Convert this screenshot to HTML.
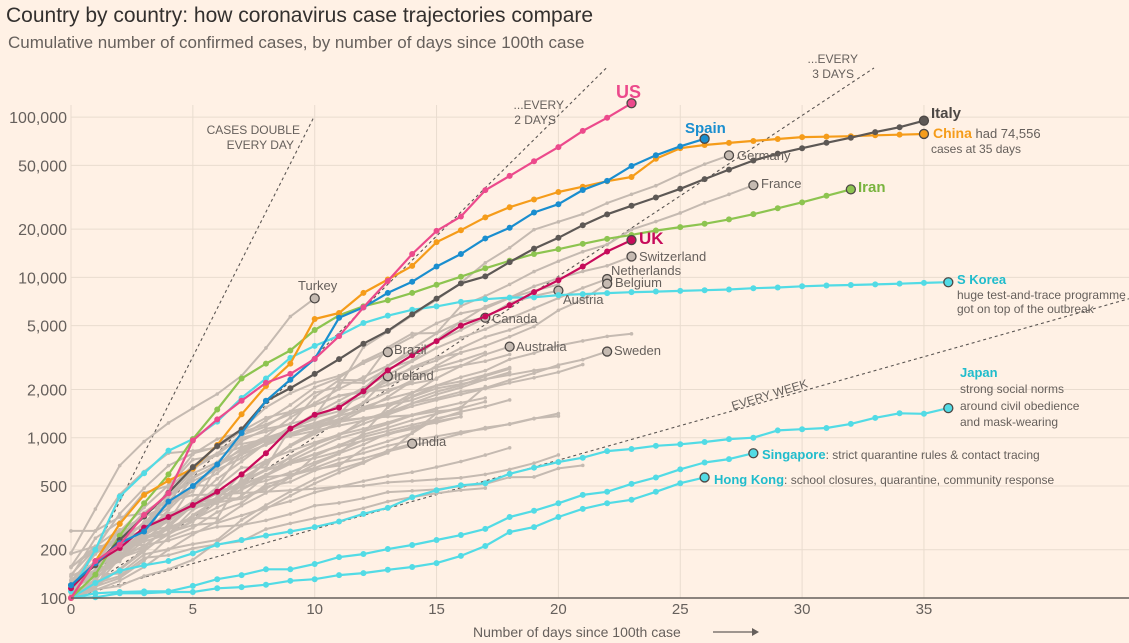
<!DOCTYPE html>
<html><head><meta charset="utf-8">
<style>
html,body{margin:0;padding:0;background:#fff1e5;}
svg{display:block;font-family:"Liberation Sans",sans-serif;}
</style></head>
<body>
<svg id="chart" width="1129" height="643" viewBox="0 0 1129 643">
<rect width="1129" height="643" fill="#fff1e5"/>
<text x="6" y="22" font-size="21" fill="#33302e">Country by country: how coronavirus case trajectories compare</text>
<text x="8" y="48" font-size="17" fill="#66605c">Cumulative number of confirmed cases, by number of days since 100th case</text>
<g id="grid"></g>
<g id="guides"></g>
<g id="series"></g>
<g id="axes"></g>
<g font-size="12" fill="#66605c">
<text x="300" y="134" text-anchor="end">CASES DOUBLE</text>
<text x="294" y="149" text-anchor="end">EVERY DAY</text>
<text x="564" y="109" text-anchor="end">...EVERY</text>
<text x="556" y="124" text-anchor="end">2 DAYS</text>
<text x="858" y="63" text-anchor="end">...EVERY</text>
<text x="854" y="78" text-anchor="end">3 DAYS</text>
<text x="733" y="410" transform="rotate(-17 733 410)">EVERY WEEK</text>
</g>
<g font-size="13" fill="#66605c">
<text x="298" y="290">Turkey</text>
<text x="737" y="160">Germany</text>
<text x="761" y="188">France</text>
<text x="639" y="261">Switzerland</text>
<text x="611" y="275">Netherlands</text>
<text x="615" y="287">Belgium</text>
<text x="563" y="304">Austria</text>
<text x="492" y="323">Canada</text>
<text x="516" y="351">Australia</text>
<text x="614" y="355">Sweden</text>
<text x="394" y="354">Brazil</text>
<text x="394" y="380">Ireland</text>
<text x="418" y="446">India</text>
</g>
<g font-weight="bold">
<text x="616" y="98" font-size="18" fill="#ec4a8c">US</text>
<text x="685" y="133" font-size="15" fill="#1a8ecf">Spain</text>
<text x="931" y="118" font-size="15" fill="#4d4845">Italy</text>
<text x="933" y="138" font-size="14" fill="#f59c1a">China<tspan font-weight="normal" fill="#66605c" font-size="13"> had 74,556</tspan></text>
<text x="931" y="153" font-size="12" font-weight="normal" fill="#66605c">cases at 35 days</text>
<text x="858" y="192" font-size="15" fill="#79b43f">Iran</text>
<text x="639" y="244" font-size="17" fill="#c70b5b">UK</text>
<text x="957" y="284" font-size="13" fill="#20bccc">S Korea</text>
<text x="957" y="299" font-size="12" font-weight="normal" fill="#66605c">huge test-and-trace programme</text>
<text x="957" y="313" font-size="12" font-weight="normal" fill="#66605c">got on top of the outbreak</text>
<text x="960" y="377" font-size="13" fill="#20bccc">Japan</text>
<text x="960" y="393" font-size="12" font-weight="normal" fill="#66605c">strong social norms</text>
<text x="960" y="410" font-size="12" font-weight="normal" fill="#66605c">around civil obedience</text>
<text x="960" y="426" font-size="12" font-weight="normal" fill="#66605c">and mask-wearing</text>
<text x="762" y="459" font-size="13" fill="#20bccc">Singapore<tspan font-weight="normal" fill="#66605c" font-size="12">: strict quarantine rules &amp; contact tracing</tspan></text>
<text x="714" y="484" font-size="13" fill="#20bccc">Hong Kong<tspan font-weight="normal" fill="#66605c" font-size="12">: school closures, quarantine, community response</tspan></text>
</g>
<text x="473" y="637" font-size="14" fill="#66605c">Number of days since 100th case</text>
<g><line x1="713" y1="632" x2="752" y2="632" stroke="#66605c" stroke-width="1.2"/><path d="M752 628 L759 632 L752 636 Z" fill="#66605c"/></g>
</svg>
<script>
const xTicks=[0,5,10,15,20,25,30,35];
const yTicks=[100,200,500,1000,2000,5000,10000,20000,50000,100000];
const yTickLabels=["100","200","500","1,000","2,000","5,000","10,000","20,000","50,000","100,000"];
const guideDoublingDays=[1,2,3,7];

const usCases=[100,170,215,330,450,960,1300,1700,2200,2500,3100,4300,6500,9500,14000,19500,24000,35000,43000,53000,65000,82000,99000,122000];
const spainCases=[120,165,220,260,400,500,680,1070,1700,2300,3100,5600,6500,8000,9400,11700,14000,17500,20400,25400,28600,35100,40000,49500,57800,65700,73200];
const italyCases=[120,160,230,322,453,655,888,1128,1694,2036,2502,3089,3858,4636,5883,7375,9172,10149,12462,15113,17660,21157,24747,27980,31506,35713,41035,47021,53578,59138,63927,69176,74386,80589,86498,95000];
const chinaCases=[100,170,290,440,540,640,900,1400,2100,2900,5500,6000,8000,9700,11800,16600,19700,23700,27400,30600,34100,36800,39800,42300,55000,64000,67000,69000,71000,73000,75000,75500,76000,77000,77700,78500];
const iranCases=[100,140,245,390,590,980,1500,2340,2900,3500,4700,5800,6600,7200,8000,9000,10100,11400,12700,14000,15000,16200,17400,18400,19600,20600,21600,23000,24800,27000,29400,32300,35400];
const ukCases=[115,165,205,275,320,380,460,590,800,1140,1390,1540,1950,2630,3270,4000,5000,5700,6700,8100,9600,11700,14500,17100];
const sKoreaCases=[110,200,430,600,830,980,1260,1770,2340,3150,3740,4330,5190,5770,6280,6590,7040,7310,7480,7510,7750,7870,7980,8090,8160,8240,8320,8410,8560,8650,8800,8900,8960,9040,9140,9240,9330];
const japanCases=[100,124,148,160,170,190,215,230,245,260,277,300,335,365,425,470,505,520,595,650,705,750,825,850,890,910,940,980,1000,1110,1130,1150,1220,1330,1420,1410,1530];
const singaporeCases=[100,107,109,110,110,119,131,139,151,151,163,180,188,202,214,230,247,270,320,350,390,440,460,515,565,635,700,735,800];
const hongKongCases=[100,101,107,107,109,109,115,117,121,128,131,139,143,150,156,165,183,211,258,277,320,360,390,410,460,520,565];

const turkeyCases=[191,359,670,947,1236,1529,1872,2433,3629,5698,7402];
const germanyCases=[130,159,196,262,482,670,799,1040,1176,1457,1908,2078,3675,4585,5795,7272,9257,12327,15320,19848,22213,24873,29056,32986,37323,43938,50871,57695];
const franceCases=[100,130,191,204,288,380,656,957,1134,1217,1792,2289,2284,3661,4469,4499,6633,7652,9043,10871,12612,14459,16018,19856,22304,25233,29155,32964,37575];
const switzerlandCases=[100,114,214,268,337,374,491,652,652,1139,1359,2200,2200,2700,3028,4075,5294,6575,7474,8795,9877,10897,11811,13500];
const netherlandsCases=[128,188,265,321,382,503,503,804,959,1135,1413,1705,2051,2460,2994,3631,4204,4749,5560,6412,7431,8603,9762];
const belgiumCases=[109,169,200,239,267,314,314,559,689,886,1058,1243,1486,1795,2257,2815,3401,3743,4269,4937,6235,7284,9134];
const austriaCases=[104,131,182,246,302,504,655,860,1018,1332,1646,2013,2388,2814,3582,4474,5283,5588,6909,7657,8271];
const canadaCases=[100,117,152,200,250,300,400,520,700,900,1100,1400,2000,2800,3400,4000,4700,5600];
const australiaCases=[100,112,128,156,200,249,300,377,452,568,681,791,1071,1549,1890,2350,2800,3300,3700];
const swedenCases=[137,161,203,248,355,500,599,814,961,1022,1103,1190,1279,1439,1639,1763,1934,2046,2286,2526,2840,3069,3447];
const brazilCases=[121,200,234,291,428,621,904,1128,1546,1891,2201,2433,2915,3417];
const irelandCases=[129,169,223,292,366,557,683,785,906,1125,1329,1564,1819,2415];
const indiaCases=[107,113,119,137,151,173,223,283,360,434,519,606,694,834,918];
const portugalCases=[112,169,245,331,448,642,785,1020,1280,1600,2060,2362,2995,3544,4268,5170,5962,6408,7443,8251,9034];
const norwayCases=[108,147,169,277,400,598,702,996,1090,1221,1333,1463,1550,1746,1914,2118,2385,2621,3084,3369,3755,4015,4284,4445];
const denmarkCases=[157,262,442,615,801,827,864,914,977,1057,1151,1255,1326,1395,1572,1718,1862,2023,2200,2366,2564,2860];
const israelCases=[109,143,178,200,250,304,427,529,712,883,1071,1238,1656,2369,2693,3035,3619,4247,4695,5358];
const malaysiaCases=[129,149,197,238,428,566,673,790,900,1030,1183,1306,1518,1624,1796,2031,2161,2320,2470,2626,2766];
const czechCases=[116,150,214,298,383,464,694,833,995,1120,1236,1394,1654,1925,2279,2631,2817,3001,3308];
const qatarCases=[262,262,320,337,401,439,442,452,460,470,481,494,501,526,537,549,562,590,634,693,781];
const chileCases=[156,201,238,342,434,537,632,746,922,1142,1306,1610,1909,2139,2449,2738,3031,3404];
const luxembourgCases=[140,203,335,484,670,798,875,1099,1333,1453,1605,1831,1950,1988,2178,2319];
const ecuadorCases=[111,168,260,367,506,789,981,1082,1211,1403,1595,1823,1924,2240,2758,3163,3368];
const polandCases=[103,119,177,238,251,355,425,536,634,749,901,1051,1221,1389,1638,1862,2055,2311,2554];
const romaniaCases=[123,139,184,260,277,308,367,433,576,762,906,1029,1292,1452,1815,2109,2245,2460,2738];
const pakistanCases=[136,236,299,454,501,730,776,875,972,1063,1201,1373,1495,1597,1717,1938,2118,2421,2686];
const saudiCases=[103,118,133,171,238,274,344,392,511,562,767,900,1012,1104,1203,1299,1453,1563,1720];
const finlandCases=[155,210,267,272,319,400,450,523,626,700,792,880,958,1041,1167,1240,1352];
const greeceCases=[117,190,228,331,331,387,418,418,495,530,624,695,743,821,892,966,1061,1156,1212,1314,1415];
const indonesiaCases=[117,134,172,227,309,369,450,514,579,686,790,893,1046,1155,1285,1414,1528,1677];
const thailandCases=[114,147,177,212,272,322,411,599,721,827,934,1045,1136,1245,1388,1524,1651,1771];
const philippinesCases=[111,140,142,187,202,217,230,307,380,462,552,636,707,803,1075,1418,1546,2084];
const southAfricaCases=[116,150,202,240,274,402,554,709,927,1170,1187,1280,1326,1353,1380,1462,1505];
const mexicoCases=[118,164,203,251,316,367,405,475,585,717,848,993,1094,1215,1378,1510];
const icelandCases=[117,138,199,225,250,330,409,473,568,588,648,737,802,890,963,1020,1086,1135,1220,1319,1364];
const egyptCases=[110,126,150,196,256,285,294,327,366,402,456,495,536,576,609,656,710,779,865];
const argentinaCases=[128,158,225,266,301,387,387,502,589,690,745,820,966,1054,1133,1265,1353];
const colombiaCases=[102,128,196,231,277,378,470,491,539,608,702,798,906,1065,1161,1267];
const slovakiaCases=[105,123,137,178,185,204,216,226,269,292,314,336,363,400,426,450,471,485];
const peruCases=[117,145,234,263,318,363,395,416,480,580,635,671,852,950,1065,1323,1414];
const bahrainCases=[189,210,214,214,228,256,278,285,305,334,377,392,419,458,466,476,499,515,567,569,643,672];

const NS="http://www.w3.org/2000/svg";
const X0=71, PXD=24.37, Y0=598, PXDEC=160.3;
function xs(d){return X0+d*PXD;}
function ys(v){return Y0-PXDEC*Math.log10(v/100);}
function mk(tag,attrs,parent){const e=document.createElementNS(NS,tag);for(const k in attrs)e.setAttribute(k,attrs[k]);parent.appendChild(e);return e;}

const grid=document.getElementById('grid');
const axes=document.getElementById('axes');
yTicks.forEach((t,i)=>{
  const l=mk('line',{x1:X0,x2:1129,y1:ys(t),y2:ys(t),stroke:'#e9dccf','stroke-width':1},grid);
  
  
  const tx=mk('text',{x:67,y:ys(t)+6,'text-anchor':'end','font-size':16,fill:'#66605c'},axes);
  tx.textContent=yTickLabels[i];
  
  
});
xTicks.forEach(t=>{
  const l=mk('line',{x1:xs(t),x2:xs(t),y1:105,y2:Y0,stroke:'#e9dccf','stroke-width':1},grid);
  
  
  const tx=mk('text',{x:xs(t),y:614,'text-anchor':'middle','font-size':15,fill:'#66605c'},axes);
  tx.textContent=String(t);
  
  
});
const base=mk('line',{x1:X0,x2:1129,y1:Y0,y2:Y0,stroke:'#66605c','stroke-width':1.5},axes);



const guides=document.getElementById('guides');
guideDoublingDays.forEach((k,idx)=>{
  const vTop=idx===0?100000:100*Math.pow(10,(Y0-68)/PXDEC);
  let dEnd=k*Math.log2(vTop/100);
  const dRight=(1129-X0)/PXD;
  if(dEnd>dRight)dEnd=dRight;
  const l=mk('line',{x1:xs(0),y1:ys(100),x2:xs(dEnd),y2:ys(100*Math.pow(2,dEnd/k)),stroke:'#5a5552','stroke-width':1.1,'stroke-dasharray':'3,3'},guides);
  
  
});

const seriesG=document.getElementById('series');
function drawSeries(vals,color,name,opts){
  const g=mk('g',{},seriesG);
  
  
  const pts=vals.map((v,i)=>xs(i).toFixed(1)+','+ys(v).toFixed(1)).join(' ');
  const pl=mk('polyline',{points:pts,fill:'none',stroke:color,'stroke-width':opts.w,'stroke-linejoin':'round'},g);
  
  
  vals.forEach((v,i)=>{
    const last=i===vals.length-1;
    if(last&&opts.end){
      const c=mk('circle',{cx:xs(i),cy:ys(v),r:4.5,fill:color,stroke:'#4d4845','stroke-width':1.3},g);
      
      
    }else if(opts.r>0){
      const c=mk('circle',{cx:xs(i),cy:ys(v),r:opts.r,fill:color},g);
      
      
    }
  });
}
const GRAY='#c5bab1';
const labelledGray=[[turkeyCases,'turkey'],[germanyCases,'germany'],[franceCases,'france'],[switzerlandCases,'switzerland'],[netherlandsCases,'netherlands'],[belgiumCases,'belgium'],[austriaCases,'austria'],[canadaCases,'canada'],[australiaCases,'australia'],[swedenCases,'sweden'],[brazilCases,'brazil'],[irelandCases,'ireland'],[indiaCases,'india']];
const otherGray=[[portugalCases,'portugal'],[norwayCases,'norway'],[denmarkCases,'denmark'],[israelCases,'israel'],[malaysiaCases,'malaysia'],[czechCases,'czechia'],[qatarCases,'qatar'],[chileCases,'chile'],[luxembourgCases,'luxembourg'],[ecuadorCases,'ecuador'],[polandCases,'poland'],[romaniaCases,'romania'],[pakistanCases,'pakistan'],[saudiCases,'saudi-arabia'],[finlandCases,'finland'],[greeceCases,'greece'],[indonesiaCases,'indonesia'],[thailandCases,'thailand'],[philippinesCases,'philippines'],[southAfricaCases,'south-africa'],[mexicoCases,'mexico'],[icelandCases,'iceland'],[egyptCases,'egypt'],[argentinaCases,'argentina'],[colombiaCases,'colombia'],[slovakiaCases,'slovakia'],[peruCases,'peru'],[bahrainCases,'bahrain']];
otherGray.forEach(s=>drawSeries(s[0],GRAY,'series-'+s[1],{w:2,r:1.8,end:false}));
labelledGray.forEach(s=>drawSeries(s[0],GRAY,'series-'+s[1],{w:2,r:1.8,end:true}));
const CYAN='#52dbe5';
drawSeries(hongKongCases,CYAN,'series-hong-kong',{w:2.2,r:3,end:true});
drawSeries(singaporeCases,CYAN,'series-singapore',{w:2.2,r:3,end:true});
drawSeries(japanCases,CYAN,'series-japan',{w:2.2,r:3,end:true});
drawSeries(sKoreaCases,CYAN,'series-s-korea',{w:2.2,r:3,end:true});
drawSeries(iranCases,'#8dc450','series-iran',{w:2.2,r:3,end:true});
drawSeries(ukCases,'#c70b5b','series-uk',{w:2.2,r:3,end:true});
drawSeries(chinaCases,'#f59c1a','series-china',{w:2.2,r:3,end:true});
drawSeries(italyCases,'#5d5855','series-italy',{w:2.2,r:3,end:true});
drawSeries(spainCases,'#1a8ecf','series-spain',{w:2.2,r:3,end:true});
drawSeries(usCases,'#ec4a8c','series-us',{w:2.2,r:3,end:true});
</script>
</body></html>
